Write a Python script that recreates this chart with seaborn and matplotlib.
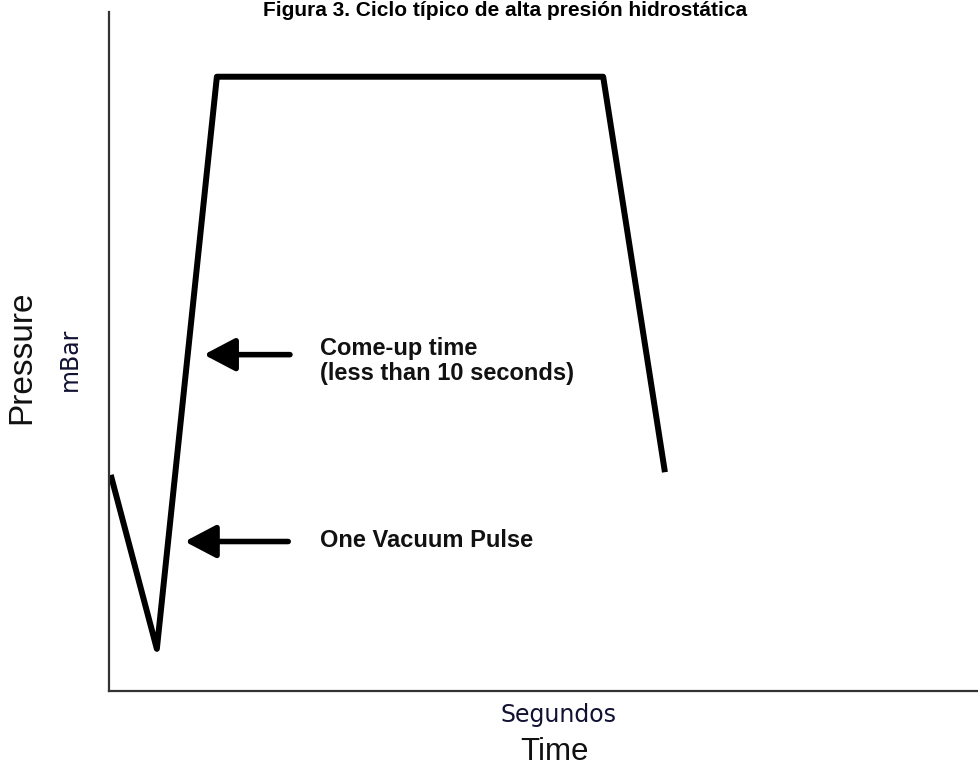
import pandas as pd
import seaborn as sns
import numpy as np
import matplotlib.pyplot as plt

# -------------------------------
# Data
# -------------------------------
time = [0.2, 5.5, 12.4, 56.8, 63.9]
pressure = [31.8, 6.2, 90.4, 90.4, 32.2]

title = "Figura 3. Ciclo típico de alta presión hidrostática"
annot_comeup = "Come-up time\n(less than 10 seconds)"
annot_vacuum = "One Vacuum Pulse"

df = pd.DataFrame({"Time": time, "Pressure": pressure})

# -------------------------------
# Style
# -------------------------------
sns.set_style("white")
plt.rcParams['font.family'] = ['Liberation Sans', 'DejaVu Sans']

fig = plt.figure(figsize=(9.79, 7.67), dpi=100)
ax = fig.add_axes([109 / 979, 76 / 767, 870 / 979, 679.5 / 767])

# main pressure curve
sns.lineplot(data=df, x="Time", y="Pressure", sort=False, color="black",
             linewidth=4.3, ax=ax)
ax.lines[0].set_solid_joinstyle("round")
ax.lines[0].set_solid_capstyle("butt")

ax.set_xlim(0, 100)
ax.set_ylim(0, 100)
ax.set_xticks([])
ax.set_yticks([])
ax.set_xlabel("")
ax.set_ylabel("")
sns.despine(ax=ax)
for side in ["left", "bottom"]:
    ax.spines[side].set_color("#333333")
    ax.spines[side].set_linewidth(1.6)

# -------------------------------
# Arrows + annotations
# -------------------------------
arrow = dict(arrowstyle="-|>,head_length=0.95,head_width=0.5",
             color="black", lw=4, mutation_scale=20, shrinkA=0, shrinkB=0)
ax.annotate("", xy=(10.9, 49.5), xytext=(20.8, 49.5), arrowprops=arrow)
ax.annotate("", xy=(8.7, 22.0), xytext=(20.6, 22.0), arrowprops=arrow)

ax.text(24.2, 48.6, annot_comeup, fontsize=17, fontweight="bold",
        va="center", ha="left", linespacing=1.1, color="#111111")
ax.text(24.2, 22.1, annot_vacuum, fontsize=17, fontweight="bold",
        va="center", ha="left", color="#111111")

# axis labels placed like the original drawing
fig.text(22 / 979, 1 - 357 / 767, "Pressure", rotation=90, fontsize=24,
         va="center", ha="center", color="#111111")
fig.text(70 / 979, 1 - 359 / 767, "mBar", rotation=90, fontsize=17,
         va="center", ha="center", color="#111133", family="DejaVu Sans")
fig.text(559 / 979, 1 - 715 / 767, "Segundos", fontsize=17,
         va="center", ha="center", color="#111133", family="DejaVu Sans")
fig.text(555 / 979, 1 - 752 / 767, "Time", fontsize=22.5,
         va="center", ha="center", color="#111111")

# title sits right at the top edge
fig.text(505 / 979, 1 - 16 / 767, title, fontsize=15, fontweight="bold",
         va="baseline", ha="center", color="black")

plt.savefig("out.png", dpi=100)
